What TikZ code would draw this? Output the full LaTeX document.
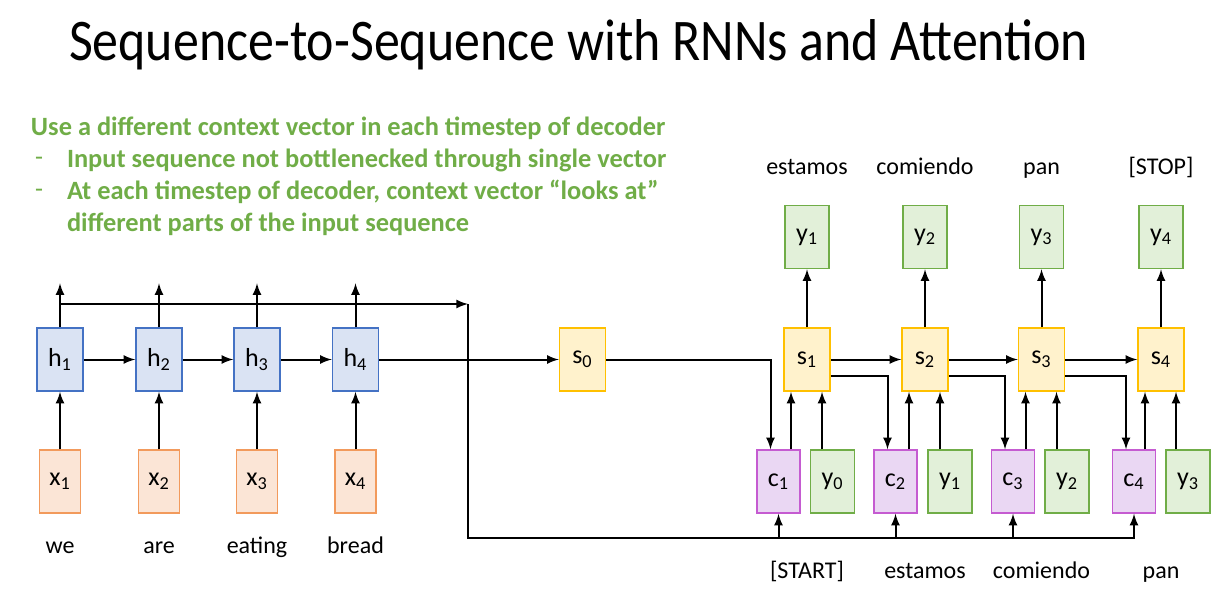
\documentclass[tikz,border=0pt]{standalone}
\usepackage{fontspec}
\setmainfont{Carlito}
\definecolor{hfond}{HTML}{DAE3F3}
\definecolor{hbord}{HTML}{4472C4}
\definecolor{xfond}{HTML}{FBE5D6}
\definecolor{xbord}{HTML}{F29A5C}
\definecolor{sfond}{HTML}{FFF2CC}
\definecolor{sbord}{HTML}{FFC000}
\definecolor{yfond}{HTML}{E2F0D9}
\definecolor{ybord}{HTML}{70AD47}
\definecolor{cfond}{HTML}{EAD7F3}
\definecolor{cbord}{HTML}{C55BD1}
\definecolor{vert}{HTML}{70AD47}
\begin{document}
\begin{tikzpicture}[x=0.5pt, y=-0.5pt, >=latex, line width=1pt,
                  bloc/.style={draw, line width=0.75pt, minimum height=31.5pt, inner sep=0pt,
                               font=\fontsize{13}{15}\selectfont},
                  cache/.style={bloc, fill=hfond, draw=hbord, minimum width=23pt},
                  entree/.style={bloc, fill=xfond, draw=xbord, minimum width=20.5pt},
                  etat/.style={bloc, fill=sfond, draw=sbord, minimum width=23pt},
                  contexte/.style={bloc, fill=cfond, draw=cbord, minimum width=21.5pt},
                  sortie/.style={bloc, fill=yfond, draw=ybord, minimum width=22pt},
                  mot/.style={anchor=base, font=\fontsize{12}{14}\selectfont, inner sep=0pt},
                  puce/.style={anchor=west, inner sep=0pt, text=vert,
                               font=\bfseries\fontsize{13.2}{15}\selectfont}]
\useasboundingbox (0,0) rectangle (1221,601);
\node[anchor=base west, inner sep=0pt, font=\fontsize{29.5}{35}\selectfont] (titre)
  at (68,60) {\scalebox{0.88}[1]{Sequence-to-Sequence with RNNs and Attention}};
\node[puce] (l0) at (30,128) {Use a different context vector in each timestep of decoder};
\node[puce] (l1) at (66,160) {Input sequence not bottlenecked through single vector};
\node[puce] (l2) at (66,192) {At each timestep of decoder, context vector “looks at”};
\node[puce] (l3) at (66,224) {different parts of the input sequence};
\node[puce, font=\fontsize{13}{15}\selectfont] (t1) at (34,161) {-};
\node[puce, font=\fontsize{13}{15}\selectfont] (t2) at (34,193) {-};
% encodeur
\foreach \i/\x/\w in {1/60/we, 2/159/are, 3/257/eating, 4/355.5/bread}
  {\node[entree] (x\i) at (\x,481.5) {x\textsubscript{\i}};
   \node[cache] (h\i) at (\x,359.5) {h\textsubscript{\i}};
   \node[mot] (m\i) at (\x,553) {\w};
   \draw[->] (x\i) -- (h\i);
   \draw[->] (h\i.north) -- ++(0,-44);};
\foreach \i/\j in {1/2,2/3,3/4}
  \draw[->] (h\i) -- (h\j);
\coordinate (coin) at (468,304);
\coordinate (bas) at (468,538);
\draw[->] (h1.north |- coin) -- (coin);
% decodeur
\node[etat] (s0) at (582.5,359.5) {s\textsubscript{0}};
\draw[->] (h4) -- (s0);
\foreach \i/\sx/\cx/\yx/\e/\o in {1/807/778.5/832.5/[START]/estamos,
    2/925/895.5/950/estamos/comiendo, 3/1041.5/1013/1067/comiendo/pan,
    4/1161/1134/1188/pan/[STOP]}
  {\pgfmathtruncatemacro\p{\i-1}
   \node[etat] (s\i) at (\sx,359.5) {s\textsubscript{\i}};
   \node[contexte] (c\i) at (\cx,481.5) {c\textsubscript{\i}};
   \node[sortie] (yin\i) at (\yx,481.5) {y\textsubscript{\p}};
   \node[sortie] (yout\i) at (\sx,237) {y\textsubscript{\i}};
   \node[mot] (e\i) at (\sx,578) {\e};
   \node[mot] (o\i) at (\sx,174) {\o};
   \draw[->] (s\i) -- (yout\i);
   \draw[->] ([xshift=-8pt]s\i.south |- c\i.north) -- ([xshift=-8pt]s\i.south);
   \draw[->] ([xshift=7.5pt]s\i.south |- yin\i.north) -- ([xshift=7.5pt]s\i.south);};
\foreach \i/\j in {1/2,2/3,3/4}
  {\draw[->] (s\i) -- (s\j);
   \draw[->] ([yshift=-8pt]s\i.east) -| ([xshift=-4pt]c\j.north);};
\draw[->] (s0.east) -| ([xshift=-4pt]c1.north);
\draw[->] (coin) -- (bas) -| (c4.south);
\foreach \i in {1,2,3}
  \draw[->] (c\i.south |- bas) -- (c\i.south);
\end{tikzpicture}
\end{document}
